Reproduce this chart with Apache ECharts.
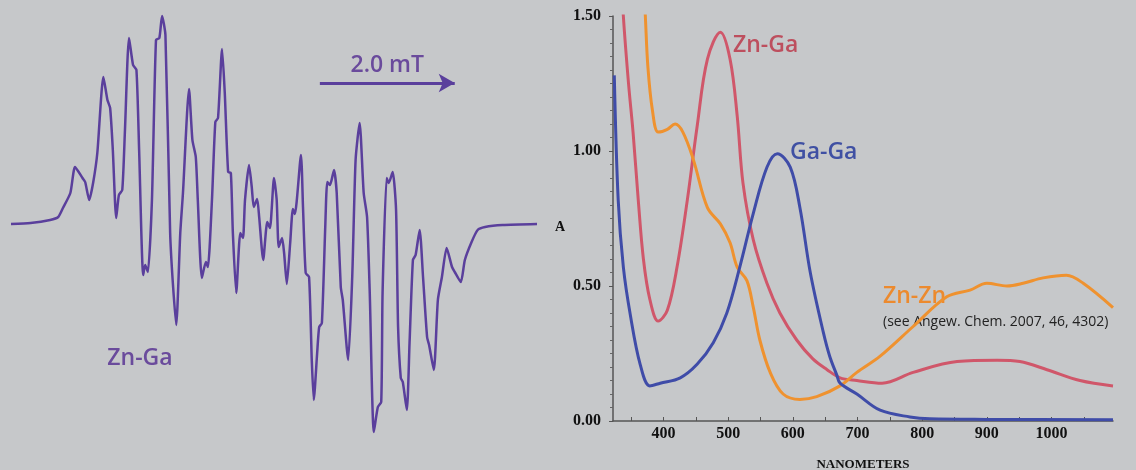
<!DOCTYPE html>
<html>
<head>
<meta charset="utf-8">
<script src="https://cdn.jsdelivr.net/npm/echarts@6/dist/echarts.min.js"></script>
<style>
html, body { margin: 0; padding: 0; background: #c6c8ca; }
#main { width: 1136px; height: 470px; }
</style>
</head>
<body>
<div id="main"></div>
<script>
// EPR trace of Zn-Ga: field offset from centre (mT), derivative signal (arb.)
var epr_trace = [
  [-3.90, 0], [-3.61, 0.01], [-3.32, 0.04], [-3.20, 0.07], [-3.13, 0.16], [-3.02, 0.31],
  [-2.95, 0.57], [-2.84, 0.46], [-2.80, 0.42], [-2.74, 0.24], [-2.68, 0.42], [-2.62, 0.71],
  [-2.53, 1.47], [-2.47, 1.24], [-2.43, 1.16], [-2.39, 0.74], [-2.34, 0.06], [-2.30, 0.29],
  [-2.25, 0.34], [-2.21, 0.94], [-2.15, 1.86], [-2.09, 1.59], [-2.04, 1.54], [-2.00, 0.74],
  [-1.94, -0.51], [-1.91, -0.41], [-1.87, -0.48], [-1.81, 0.24], [-1.75, 1.84], [-1.70, 1.86],
  [-1.66, 2.08], [-1.61, 1.89], [-1.54, -0.09], [-1.50, -0.59], [-1.45, -1.01], [-1.39, -0.09],
  [-1.35, 0.31], [-1.26, 1.35], [-1.21, 0.84], [-1.16, 0.67], [-1.13, 0.24], [-1.07, -0.54],
  [-1.01, -0.38], [-0.98, -0.43], [-0.92, 0.24], [-0.87, 1.02], [-0.83, 1.06], [-0.77, 1.75],
  [-0.73, 1.31], [-0.68, 0.52], [-0.64, 0.51], [-0.61, -0.09], [-0.56, -0.69], [-0.50, -0.09],
  [-0.46, -0.14], [-0.43, 0.24], [-0.37, 0.59], [-0.33, 0.37], [-0.30, 0.17], [-0.25, 0.25],
  [-0.22, 0.07], [-0.16, -0.36], [-0.10, 0.02], [-0.06, -0.04], [0, 0.46], [0.04, 0.24],
  [0.07, -0.23], [0.12, -0.14], [0.15, -0.29], [0.19, -0.60], [0.24, -0.19], [0.28, 0.15],
  [0.31, 0.10], [0.40, 0.69], [0.43, 0.17], [0.47, -0.49], [0.52, -0.53], [0.56, -1.36],
  [0.59, -1.76], [0.64, -1.29], [0.67, -1.03], [0.71, -0.99], [0.76, -0.03], [0.79, 0.42],
  [0.83, 0.39], [0.89, 0.54], [0.93, 0.31], [0.99, -0.63], [1.02, -0.76], [1.10, -1.36],
  [1.16, -0.53], [1.21, 0.64], [1.27, 1.01], [1.33, 0.31], [1.38, 0.07], [1.42, -0.69],
  [1.48, -2.08], [1.54, -1.83], [1.59, -1.78], [1.61, -0.69], [1.67, 0.46], [1.70, 0.41],
  [1.76, 0.52], [1.81, 0.14], [1.84, -1.03], [1.88, -1.54], [1.91, -1.58], [1.97, -1.86],
  [2.01, -1.19], [2.06, -0.36], [2.10, -0.31], [2.16, -0.06], [2.21, -0.53], [2.27, -1.13],
  [2.30, -1.21], [2.37, -1.46], [2.43, -0.76], [2.49, -0.53], [2.56, -0.24], [2.64, -0.43],
  [2.68, -0.48], [2.77, -0.58], [2.83, -0.36], [2.93, -0.18], [3.02, -0.06], [3.13, -0.03],
  [3.39, -0.01], [3.90, 0]
]
var scale_bar = [0.68, 2.68]   // 2.0 mT arrow, start and end (mT)
var scale_bar_level = 1.41

// UV-vis absorbance, [nm, A]
var ga_ga = [
  [324, 1.28], [330, 0.82], [338, 0.57], [349, 0.39], [364, 0.21], [379, 0.13], [395, 0.14],
  [426, 0.16], [452, 0.21], [477, 0.29], [498, 0.40], [518, 0.57], [539, 0.77], [560, 0.94],
  [576, 0.99], [596, 0.94], [611, 0.79], [627, 0.55], [647, 0.33], [657, 0.24], [668, 0.17],
  [673, 0.14], [699, 0.10], [735, 0.04], [781, 0.015], [812, 0.008], [900, 0.006], [1095, 0.005]
]
var zn_ga = [
  [334, 1.70], [338, 1.50], [346, 1.25], [353, 1.07], [361, 0.82], [369, 0.60], [379, 0.45],
  [392, 0.37], [406, 0.41], [421, 0.57], [437, 0.82], [452, 1.09], [468, 1.34], [488, 1.44],
  [503, 1.34], [514, 1.13], [523, 0.88], [539, 0.67], [560, 0.51], [580, 0.40], [606, 0.30],
  [631, 0.23], [653, 0.19], [673, 0.16], [699, 0.15], [738, 0.14], [786, 0.18], [854, 0.22],
  [916, 0.225], [951, 0.22], [993, 0.19], [1044, 0.15], [1095, 0.13]
]
var zn_zn = [
  [369, 1.65], [372, 1.50], [376, 1.31], [383, 1.15], [392, 1.07], [406, 1.08], [418, 1.10],
  [430, 1.07], [446, 0.97], [468, 0.79], [488, 0.73], [503, 0.66], [514, 0.57], [529, 0.52],
  [539, 0.42], [549, 0.30], [565, 0.18], [585, 0.10], [611, 0.08], [637, 0.09], [673, 0.13],
  [699, 0.18], [735, 0.24], [786, 0.35], [838, 0.46], [874, 0.485], [900, 0.51], [931, 0.50],
  [956, 0.51], [987, 0.53], [1023, 0.54], [1049, 0.51], [1095, 0.42]
]
var nm_labels = [400, 500, 600, 700, 800, 900, 1000]
var nm_ticks = [350, 400, 450, 500, 550, 600, 650, 700, 750, 800, 850, 900, 950, 1000, 1050]

var serif = '"Liberation Serif", "DejaVu Serif", serif'
var sans = '"Open Sans", "DejaVu Sans", sans-serif'

var myChart = echarts.init(document.getElementById('main'))
myChart.setOption({
  backgroundColor: '#c6c8ca',
  animation: false,
  grid: [
    { left: 11, top: 14, width: 526, height: 420, outerBoundsMode: 'none' },
    { left: 613, top: 16, width: 500, height: 405, outerBoundsMode: 'none' }
  ],
  xAxis: [{
    gridIndex: 0, type: 'value', min: -3.9, max: 3.9, show: false
  }, {
    gridIndex: 1, type: 'value', min: 322, max: 1095,
    name: 'NANOMETERS', nameLocation: 'middle', nameGap: 37,
    nameTextStyle: { fontFamily: serif, fontWeight: 'bold', fontSize: 13, color: '#111' },
    axisLine: { lineStyle: { color: '#555', width: 1.5 } },
    axisTick: { inside: true, length: 4, customValues: nm_ticks, lineStyle: { color: '#555' } },
    axisLabel: {
      customValues: nm_labels, fontFamily: serif, fontWeight: 'bold', fontSize: 16, color: '#111', margin: 5,
      formatter: function (v) { return String(v) }
    },
    splitLine: { show: false }
  }],
  yAxis: [{
    gridIndex: 0, type: 'value', min: -2.1, max: 2.1, show: false
  }, {
    gridIndex: 1, type: 'value', min: 0, max: 1.5, interval: 0.5,
    name: 'A', nameLocation: 'middle', nameGap: 48, nameRotate: 0,
    nameTextStyle: { fontFamily: serif, fontWeight: 'bold', fontSize: 14, color: '#111', verticalAlign: 'top', padding: [2, 0, 0, 0] },
    axisLine: { show: true, lineStyle: { color: '#555', width: 1.5 } },
    axisTick: { show: true, length: 4, lineStyle: { color: '#555' } },
    minorTick: { show: true, splitNumber: 10, length: 3, lineStyle: { color: '#666' } },
    axisLabel: {
      fontFamily: serif, fontWeight: 'bold', fontSize: 16, color: '#111', margin: 12,
      formatter: function (v) { return v.toFixed(2) }
    },
    splitLine: { show: false }
  }],
  series: [{
    name: 'EPR Zn-Ga', type: 'line', xAxisIndex: 0, yAxisIndex: 0,
    data: epr_trace, showSymbol: false, smooth: 0.2,
    lineStyle: { color: '#5a3f9c', width: 2.5 },
    markLine: {
      silent: true, symbol: ['none', 'arrow'], symbolSize: [14, 16],
      lineStyle: { color: '#5a3f9c', width: 3, type: 'solid' },
      label: {
        show: true, position: 'middle', formatter: '2.0 mT', distance: 6,
        fontFamily: sans, fontWeight: 600, fontSize: 23, color: '#6a4b9c'
      },
      data: [[{ coord: [scale_bar[0], scale_bar_level] }, { coord: [scale_bar[1], scale_bar_level] }]]
    }
  }, {
    name: 'Zn-Ga', type: 'line', xAxisIndex: 1, yAxisIndex: 1,
    data: zn_ga, showSymbol: false, smooth: 0.35,
    lineStyle: { color: '#d0576a', width: 3 }
  }, {
    name: 'Zn-Zn', type: 'line', xAxisIndex: 1, yAxisIndex: 1,
    data: zn_zn, showSymbol: false, smooth: 0.35,
    lineStyle: { color: '#ef922f', width: 3 }
  }, {
    name: 'Ga-Ga', type: 'line', xAxisIndex: 1, yAxisIndex: 1,
    data: ga_ga, showSymbol: false, smooth: 0.35,
    lineStyle: { color: '#3f4ca8', width: 3 }
  }],
  graphic: [
    { type: 'text', x: 140, y: 358, style: { text: 'Zn-Ga', font: '600 23px ' + sans, fill: '#6a4b9c', textAlign: 'center', textVerticalAlign: 'middle' } },
    { type: 'text', x: 733, y: 45, style: { text: 'Zn-Ga', font: '600 23px ' + sans, fill: '#bd4f5e', textAlign: 'left', textVerticalAlign: 'middle' } },
    { type: 'text', x: 790, y: 152, style: { text: 'Ga-Ga', font: '600 23px ' + sans, fill: '#3f50a3', textAlign: 'left', textVerticalAlign: 'middle' } },
    { type: 'text', x: 883, y: 296, style: { text: 'Zn-Zn', font: '600 23px ' + sans, fill: '#ec8a2e', textAlign: 'left', textVerticalAlign: 'middle' } },
    { type: 'text', x: 883, y: 322, style: { text: '(see Angew. Chem. 2007, 46, 4302)', font: '14px ' + sans, fill: '#222', textAlign: 'left', textVerticalAlign: 'middle' } }
  ]
})
</script>
</body>
</html>
